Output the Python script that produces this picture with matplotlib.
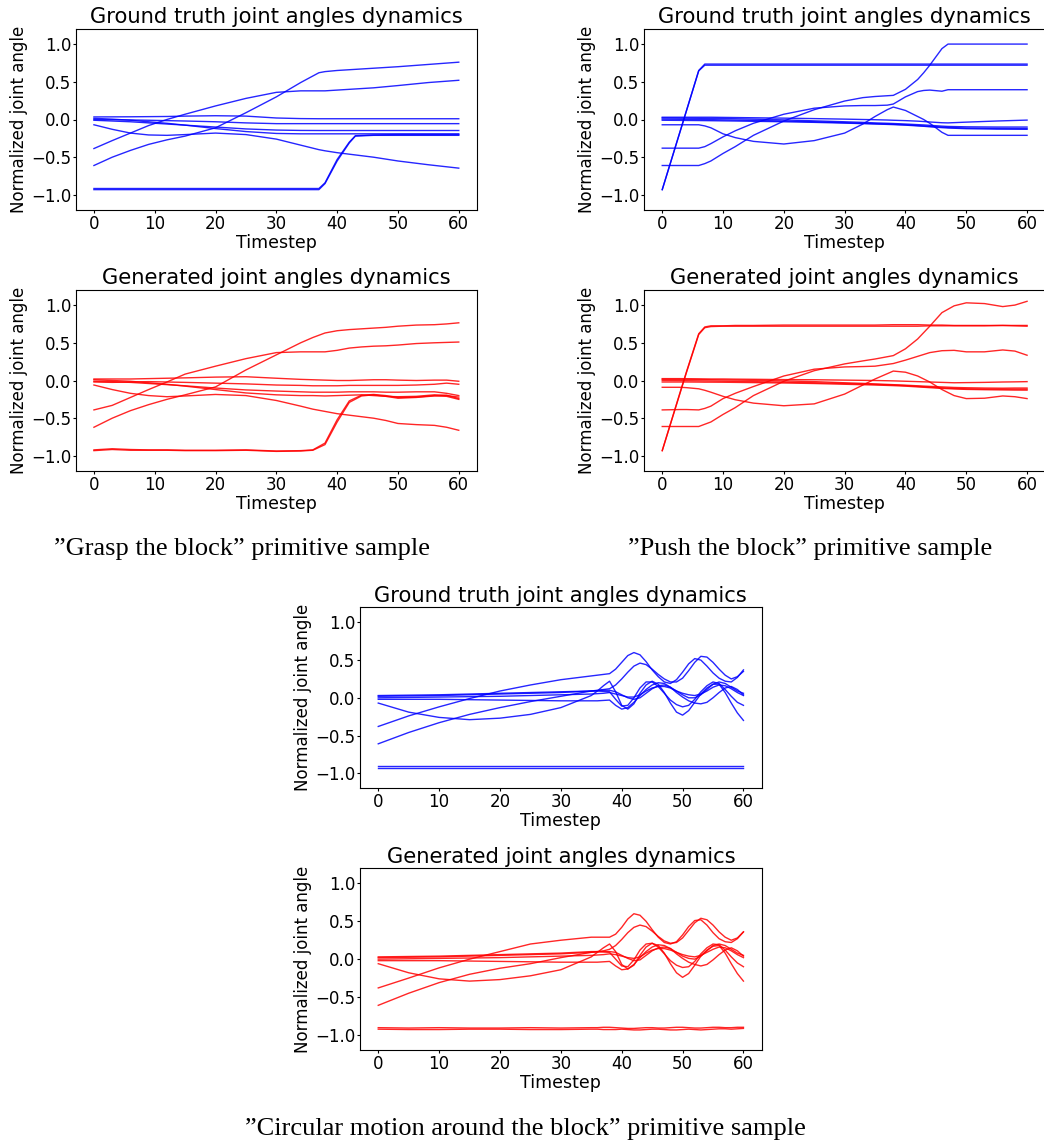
import matplotlib
matplotlib.use("Agg")
import matplotlib.pyplot as plt

W, H = 1044, 1147

# ---- "Grasp the block" : ground truth ----
grasp_t = [0, 3, 6, 9, 12, 15, 20, 25, 30, 34, 37, 38, 40, 42, 43, 46, 50, 55, 60]
grasp_gt = [
    [-0.385, -0.28, -0.18, -0.08, 0.0, 0.07, 0.18, 0.28, 0.36, 0.38, 0.38, 0.38, 0.39, 0.40, 0.405, 0.42, 0.45, 0.49, 0.52],
    [-0.61, -0.50, -0.41, -0.33, -0.27, -0.22, -0.11, 0.09, 0.30, 0.49, 0.62, 0.635, 0.65, 0.66, 0.665, 0.68, 0.70, 0.73, 0.76],
    [-0.07, -0.13, -0.18, -0.205, -0.21, -0.20, -0.18, -0.20, -0.26, -0.34, -0.40, -0.415, -0.44, -0.46, -0.47, -0.50, -0.55, -0.60, -0.645],
    [0.034, 0.035, 0.036, 0.038, 0.04, 0.045, 0.05, 0.045, 0.02, 0.012, 0.01, 0.01, 0.01, 0.01, 0.01, 0.01, 0.01, 0.01, 0.01],
    [0.0, -0.003, -0.006, -0.01, -0.015, -0.02, -0.03, -0.045, -0.055, -0.055, -0.055, -0.055, -0.055, -0.055, -0.055, -0.055, -0.055, -0.055, -0.055],
    [-0.01, -0.02, -0.03, -0.045, -0.06, -0.075, -0.10, -0.125, -0.14, -0.145, -0.146, -0.146, -0.146, -0.146, -0.146, -0.146, -0.146, -0.146, -0.146],
    [0.015, 0.005, -0.01, -0.03, -0.05, -0.075, -0.12, -0.16, -0.185, -0.19, -0.19, -0.19, -0.19, -0.19, -0.19, -0.19, -0.19, -0.19, -0.19],
    [-0.915, -0.915, -0.915, -0.915, -0.915, -0.915, -0.915, -0.915, -0.915, -0.915, -0.915, -0.84, -0.53, -0.30, -0.215, -0.205, -0.20, -0.20, -0.20],
    [-0.93, -0.93, -0.93, -0.93, -0.93, -0.93, -0.93, -0.93, -0.93, -0.93, -0.93, -0.85, -0.55, -0.31, -0.22, -0.21, -0.21, -0.21, -0.21],
]

# ---- "Grasp the block" : generated ----
grasp_gen_t = [0, 3, 6, 9, 12, 15, 20, 25, 30, 34, 36, 38, 40, 42, 44, 46, 48, 50, 53, 56, 58, 60]
grasp_gen = [
    [-0.39, -0.33, -0.225, -0.12, -0.02, 0.085, 0.19, 0.29, 0.37, 0.38, 0.38, 0.38, 0.40, 0.43, 0.445, 0.455, 0.46, 0.47, 0.49, 0.50, 0.505, 0.51],
    [-0.62, -0.50, -0.40, -0.32, -0.25, -0.19, -0.085, 0.14, 0.34, 0.50, 0.57, 0.63, 0.66, 0.675, 0.685, 0.695, 0.705, 0.72, 0.735, 0.74, 0.75, 0.765],
    [-0.06, -0.12, -0.17, -0.20, -0.215, -0.205, -0.185, -0.20, -0.265, -0.34, -0.38, -0.41, -0.44, -0.46, -0.48, -0.50, -0.53, -0.57, -0.585, -0.595, -0.62, -0.66],
    [0.02, 0.02, 0.02, 0.025, 0.03, 0.035, 0.045, 0.05, 0.03, 0.015, 0.01, 0.005, 0.0, 0.0, 0.005, 0.01, 0.01, 0.005, 0.0, 0.005, 0.005, -0.01],
    [-0.02, -0.025, -0.02, -0.015, -0.02, -0.025, -0.035, -0.045, -0.06, -0.065, -0.07, -0.07, -0.07, -0.065, -0.065, -0.065, -0.065, -0.065, -0.06, -0.05, -0.035, -0.05],
    [-0.01, -0.015, -0.025, -0.04, -0.055, -0.07, -0.10, -0.125, -0.14, -0.15, -0.155, -0.155, -0.155, -0.15, -0.15, -0.15, -0.155, -0.155, -0.15, -0.15, -0.17, -0.20],
    [0.01, 0.0, -0.01, -0.03, -0.05, -0.075, -0.12, -0.165, -0.19, -0.20, -0.20, -0.205, -0.20, -0.195, -0.19, -0.20, -0.21, -0.215, -0.21, -0.19, -0.20, -0.22],
    [-0.92, -0.905, -0.915, -0.92, -0.92, -0.925, -0.925, -0.92, -0.935, -0.93, -0.92, -0.83, -0.52, -0.27, -0.195, -0.185, -0.20, -0.225, -0.22, -0.20, -0.195, -0.24],
    [-0.93, -0.915, -0.925, -0.925, -0.925, -0.93, -0.93, -0.925, -0.94, -0.935, -0.925, -0.85, -0.55, -0.29, -0.205, -0.19, -0.21, -0.235, -0.225, -0.205, -0.21, -0.25],
]

# ---- "Push the block" : ground truth ----
push_t = [0, 3, 6, 7, 8, 10, 12, 15, 20, 25, 30, 33, 35, 37, 38, 40, 42, 43, 44, 46, 47, 50, 55, 60]
push_gt = [
    [-0.93, -0.14, 0.65, 0.735, 0.735, 0.735, 0.735, 0.735, 0.735, 0.735, 0.735, 0.735, 0.735, 0.735, 0.735, 0.735, 0.735, 0.735, 0.735, 0.735, 0.735, 0.735, 0.735, 0.735],
    [-0.93, -0.145, 0.645, 0.72, 0.72, 0.72, 0.72, 0.72, 0.72, 0.72, 0.72, 0.72, 0.72, 0.72, 0.72, 0.72, 0.72, 0.72, 0.72, 0.72, 0.72, 0.72, 0.72, 0.72],
    [-0.38, -0.38, -0.38, -0.36, -0.32, -0.23, -0.15, -0.05, 0.07, 0.15, 0.18, 0.185, 0.185, 0.19, 0.205, 0.30, 0.37, 0.385, 0.39, 0.375, 0.395, 0.395, 0.395, 0.395],
    [-0.61, -0.61, -0.61, -0.585, -0.55, -0.45, -0.36, -0.21, -0.02, 0.13, 0.245, 0.29, 0.305, 0.315, 0.32, 0.40, 0.53, 0.62, 0.72, 0.94, 1.0, 1.0, 1.0, 1.0],
    [-0.07, -0.07, -0.07, -0.085, -0.11, -0.19, -0.24, -0.29, -0.325, -0.28, -0.18, -0.06, 0.04, 0.13, 0.165, 0.12, 0.04, 0.0, -0.05, -0.17, -0.21, -0.21, -0.21, -0.21],
    [0.03, 0.03, 0.03, 0.03, 0.03, 0.028, 0.026, 0.023, 0.018, 0.012, 0.005, 0.0, -0.003, -0.007, -0.01, -0.015, -0.022, -0.027, -0.033, -0.043, -0.045, -0.035, -0.02, -0.008],
    [0.02, 0.018, 0.016, 0.015, 0.014, 0.012, 0.01, 0.005, -0.005, -0.018, -0.03, -0.038, -0.045, -0.05, -0.053, -0.06, -0.068, -0.072, -0.077, -0.088, -0.092, -0.097, -0.10, -0.10],
    [0.005, 0.003, 0.0, -0.001, -0.002, -0.005, -0.008, -0.012, -0.02, -0.03, -0.042, -0.05, -0.055, -0.06, -0.063, -0.07, -0.08, -0.085, -0.09, -0.10, -0.105, -0.113, -0.118, -0.12],
    [-0.01, -0.012, -0.014, -0.015, -0.016, -0.018, -0.02, -0.024, -0.03, -0.038, -0.048, -0.055, -0.06, -0.065, -0.068, -0.075, -0.085, -0.09, -0.097, -0.108, -0.113, -0.122, -0.128, -0.13],
]

# ---- "Push the block" : generated ----
push_gen_t = [0, 3, 4, 6, 7, 8, 10, 12, 15, 20, 25, 30, 33, 35, 38, 40, 42, 44, 46, 48, 50, 53, 56, 58, 60]
push_gen = [
    [-0.93, -0.14, 0.12, 0.62, 0.71, 0.725, 0.725, 0.73, 0.73, 0.735, 0.735, 0.735, 0.735, 0.735, 0.74, 0.74, 0.74, 0.735, 0.735, 0.73, 0.73, 0.73, 0.73, 0.725, 0.72],
    [-0.93, -0.15, 0.11, 0.61, 0.70, 0.715, 0.72, 0.72, 0.72, 0.72, 0.72, 0.72, 0.72, 0.72, 0.72, 0.72, 0.72, 0.725, 0.725, 0.725, 0.725, 0.725, 0.73, 0.73, 0.73],
    [-0.39, -0.385, -0.385, -0.39, -0.37, -0.34, -0.24, -0.17, -0.08, 0.06, 0.15, 0.18, 0.185, 0.19, 0.225, 0.27, 0.32, 0.37, 0.395, 0.40, 0.38, 0.38, 0.405, 0.39, 0.335],
    [-0.61, -0.61, -0.61, -0.61, -0.58, -0.55, -0.45, -0.36, -0.20, -0.01, 0.13, 0.22, 0.26, 0.285, 0.33, 0.42, 0.55, 0.72, 0.90, 0.99, 1.03, 1.02, 0.98, 1.0, 1.05],
    [-0.09, -0.09, -0.095, -0.11, -0.13, -0.155, -0.21, -0.255, -0.30, -0.335, -0.31, -0.18, -0.06, 0.02, 0.125, 0.11, 0.06, -0.02, -0.12, -0.20, -0.24, -0.235, -0.205, -0.215, -0.24],
    [0.025, 0.025, 0.024, 0.022, 0.021, 0.02, 0.02, 0.018, 0.016, 0.012, 0.01, 0.005, 0.002, 0.0, -0.005, -0.01, -0.015, -0.02, -0.025, -0.03, -0.028, -0.025, -0.02, -0.018, -0.015],
    [0.015, 0.014, 0.013, 0.012, 0.011, 0.01, 0.008, 0.006, 0.002, -0.005, -0.015, -0.03, -0.038, -0.045, -0.055, -0.062, -0.07, -0.078, -0.085, -0.092, -0.096, -0.10, -0.102, -0.10, -0.10],
    [0.0, -0.002, -0.003, -0.005, -0.006, -0.007, -0.009, -0.011, -0.015, -0.022, -0.03, -0.04, -0.047, -0.052, -0.06, -0.068, -0.078, -0.088, -0.097, -0.105, -0.11, -0.113, -0.115, -0.115, -0.115],
    [-0.02, -0.02, -0.02, -0.021, -0.022, -0.022, -0.023, -0.025, -0.028, -0.033, -0.04, -0.05, -0.056, -0.06, -0.068, -0.075, -0.085, -0.095, -0.105, -0.112, -0.118, -0.122, -0.125, -0.127, -0.128],
]

# ---- "Circular motion around the block" : ground truth ----
circ_t = [0, 5, 10, 15, 20, 25, 30, 35, 36, 37, 38, 39, 40, 41, 42, 43, 44, 45, 46, 47, 48, 49,
          50, 51, 52, 53, 54, 55, 56, 57, 58, 59, 60]
circ_gt = [
    [-0.38, -0.24, -0.12, -0.01, 0.09, 0.17, 0.24, 0.29, 0.30, 0.31,
     0.32, 0.38, 0.47, 0.56, 0.60, 0.57, 0.48, 0.37, 0.28, 0.21, 0.19, 0.24, 0.34, 0.45, 0.52, 0.50, 0.42, 0.33, 0.26, 0.22, 0.21, 0.27, 0.37],
    [-0.61, -0.46, -0.33, -0.22, -0.13, -0.05, 0.02, 0.09, 0.10, 0.11,
     0.12, 0.17, 0.25, 0.34, 0.42, 0.46, 0.44, 0.38, 0.31, 0.25, 0.21, 0.21, 0.26, 0.36, 0.47, 0.55, 0.54, 0.47, 0.38, 0.30, 0.25, 0.28, 0.35],
    [-0.07, -0.19, -0.26, -0.29, -0.27, -0.22, -0.13, 0.03, 0.09, 0.16,
     0.22, 0.08, -0.10, -0.15, -0.08, 0.06, 0.17, 0.22, 0.18, 0.07, -0.07, -0.19, -0.23, -0.17, -0.06, 0.05, 0.13, 0.18, 0.18, 0.07, -0.07, -0.20, -0.30],
    [0.03, 0.035, 0.04, 0.05, 0.06, 0.07, 0.08, 0.09, 0.09, 0.085,
     0.08, -0.02, -0.11, -0.10, 0.0, 0.13, 0.21, 0.21, 0.15, 0.06, -0.03, -0.09, -0.12, -0.10, -0.02, 0.08, 0.16, 0.21, 0.19, 0.11, 0.02, -0.06, -0.10],
    [0.02, 0.025, 0.03, 0.04, 0.05, 0.06, 0.07, 0.09, 0.095, 0.10,
     0.10, 0.08, 0.04, 0.0, -0.02, 0.0, 0.06, 0.12, 0.16, 0.17, 0.14, 0.09, 0.04, 0.0, 0.0, 0.04, 0.11, 0.18, 0.21, 0.19, 0.14, 0.09, 0.06],
    [0.0, 0.005, 0.01, 0.015, 0.02, 0.03, 0.04, 0.05, 0.055, 0.06,
     0.07, 0.05, 0.03, 0.01, 0.01, 0.04, 0.09, 0.13, 0.15, 0.15, 0.13, 0.09, 0.06, 0.04, 0.03, 0.05, 0.09, 0.14, 0.17, 0.16, 0.12, 0.07, 0.03],
    [-0.02, -0.02, -0.02, -0.025, -0.03, -0.035, -0.04, -0.04, -0.04, -0.035,
     -0.03, -0.10, -0.15, -0.13, -0.06, 0.03, 0.11, 0.17, 0.20, 0.19, 0.14, 0.07, 0.01, -0.04, -0.07, -0.08, -0.06, 0.0, 0.07, 0.13, 0.15, 0.11, 0.04],
    [-0.91, -0.91, -0.91, -0.91, -0.91, -0.91, -0.91, -0.91, -0.91, -0.91,
     -0.91, -0.91, -0.91, -0.91, -0.91, -0.91, -0.91, -0.91, -0.91, -0.91, -0.91, -0.91, -0.91, -0.91, -0.91, -0.91, -0.91, -0.91, -0.91, -0.91, -0.91, -0.91, -0.91],
    [-0.925, -0.925, -0.925, -0.925, -0.925, -0.925, -0.925, -0.925, -0.925, -0.925,
     -0.925, -0.925, -0.925, -0.925, -0.925, -0.925, -0.925, -0.925, -0.925, -0.925, -0.925, -0.925, -0.925, -0.925, -0.925, -0.925, -0.925, -0.925, -0.925, -0.925, -0.925, -0.925, -0.925],
]

# ---- "Circular motion around the block" : generated ----
circ_gen = [
    [-0.38, -0.25, -0.115, 0.0, 0.10, 0.20, 0.25, 0.29, 0.29, 0.29,
     0.29, 0.33, 0.42, 0.53, 0.60, 0.58, 0.50, 0.39, 0.29, 0.22, 0.20, 0.23, 0.32, 0.43, 0.51, 0.52, 0.45, 0.35, 0.27, 0.23, 0.22, 0.27, 0.36],
    [-0.61, -0.45, -0.31, -0.20, -0.12, -0.06, 0.02, 0.09, 0.10, 0.11,
     0.13, 0.18, 0.26, 0.35, 0.42, 0.45, 0.43, 0.37, 0.30, 0.24, 0.21, 0.22, 0.28, 0.38, 0.48, 0.54, 0.52, 0.45, 0.36, 0.29, 0.25, 0.28, 0.36],
    [-0.06, -0.18, -0.26, -0.29, -0.27, -0.22, -0.14, 0.03, 0.09, 0.15,
     0.20, 0.10, -0.07, -0.13, -0.08, 0.05, 0.16, 0.21, 0.18, 0.08, -0.06, -0.18, -0.24, -0.19, -0.08, 0.04, 0.12, 0.17, 0.18, 0.08, -0.06, -0.19, -0.29],
    [0.03, 0.035, 0.04, 0.05, 0.06, 0.07, 0.08, 0.10, 0.10, 0.095,
     0.09, 0.0, -0.09, -0.10, -0.01, 0.12, 0.20, 0.21, 0.16, 0.07, -0.02, -0.08, -0.11, -0.10, -0.03, 0.07, 0.15, 0.20, 0.19, 0.12, 0.03, -0.05, -0.10],
    [0.02, 0.025, 0.03, 0.04, 0.05, 0.06, 0.07, 0.09, 0.095, 0.10,
     0.10, 0.09, 0.05, 0.01, -0.02, -0.01, 0.05, 0.11, 0.15, 0.16, 0.14, 0.09, 0.04, 0.01, 0.0, 0.04, 0.11, 0.18, 0.20, 0.18, 0.13, 0.08, 0.05],
    [0.0, 0.005, 0.01, 0.015, 0.02, 0.03, 0.04, 0.05, 0.055, 0.06,
     0.07, 0.06, 0.04, 0.02, 0.01, 0.03, 0.08, 0.12, 0.14, 0.14, 0.12, 0.09, 0.06, 0.04, 0.03, 0.05, 0.09, 0.13, 0.16, 0.15, 0.11, 0.06, 0.02],
    [-0.02, -0.02, -0.02, -0.025, -0.03, -0.035, -0.04, -0.04, -0.04, -0.035,
     -0.03, -0.09, -0.14, -0.13, -0.07, 0.02, 0.10, 0.16, 0.19, 0.18, 0.14, 0.07, 0.01, -0.04, -0.07, -0.09, -0.07, -0.01, 0.06, 0.12, 0.15, 0.11, 0.04],
    [-0.905, -0.91, -0.905, -0.91, -0.91, -0.905, -0.91, -0.905, -0.905, -0.90,
     -0.90, -0.905, -0.91, -0.915, -0.915, -0.91, -0.905, -0.905, -0.91, -0.91, -0.905, -0.90, -0.90, -0.905, -0.91, -0.91, -0.905, -0.90, -0.90, -0.905, -0.905, -0.90, -0.90],
    [-0.925, -0.93, -0.93, -0.925, -0.925, -0.93, -0.93, -0.925, -0.925, -0.93,
     -0.93, -0.93, -0.925, -0.93, -0.935, -0.935, -0.93, -0.925, -0.925, -0.93, -0.935, -0.935, -0.93, -0.925, -0.93, -0.935, -0.93, -0.925, -0.92, -0.92, -0.925, -0.92, -0.915],
]

titles = ["Ground truth joint angles dynamics", "Generated joint angles dynamics"]
captions = ["\u201dGrasp the block\u201d primitive sample",
            "\u201dPush the block\u201d primitive sample",
            "\u201dCircular motion around the block\u201d primitive sample"]


def px_axes(fig, left, top, right, bottom):
    """Axes placed by pixel box (top-left origin)."""
    return fig.add_axes([left / W, 1 - bottom / H, (right - left) / W, (bottom - top) / H])


def draw_panel(ax, t, series, color, title):
    for ys in series:
        ax.plot(t, ys, color=color, linewidth=1.0, alpha=0.85)
    ax.set_ylim(-1.2, 1.2)
    ax.set_yticks([-1.0, -0.5, 0.0, 0.5, 1.0])
    ax.set_xticks([0, 10, 20, 30, 40, 50, 60])
    ax.tick_params(labelsize=12, length=2.3, pad=1.0)
    ax.set_title(title, fontsize=15.2, pad=4)
    ax.set_xlabel("Timestep", fontsize=12.5, labelpad=1)
    ax.set_ylabel("Normalized joint angle", fontsize=12, labelpad=2)


fig = plt.figure(figsize=(W / 100, H / 100), dpi=100)

ax = px_axes(fig, 75.7, 29, 477, 210)
draw_panel(ax, grasp_t, grasp_gt, "blue", titles[0])
ax = px_axes(fig, 75.7, 290, 477, 471)
draw_panel(ax, grasp_gen_t, grasp_gen, "red", titles[1])

ax = px_axes(fig, 644, 29, 1045.3, 210)
draw_panel(ax, push_t, push_gt, "blue", titles[0])
ax = px_axes(fig, 644, 290, 1045.3, 471)
draw_panel(ax, push_gen_t, push_gen, "red", titles[1])

ax = px_axes(fig, 360, 607.3, 761.7, 788.3)
draw_panel(ax, circ_t, circ_gt, "blue", titles[0])
ax = px_axes(fig, 360, 868.3, 761.7, 1050)
draw_panel(ax, circ_t, circ_gen, "red", titles[1])

cap_font = dict(family="Liberation Serif", fontsize=19, ha="center", va="center")
fig.text(242 / W, 1 - 549 / H, captions[0], **cap_font)
fig.text(810 / W, 1 - 549 / H, captions[1], **cap_font)
fig.text(525 / W, 1 - 1129 / H, captions[2], **cap_font)

fig.savefig("out.png", dpi=100)
